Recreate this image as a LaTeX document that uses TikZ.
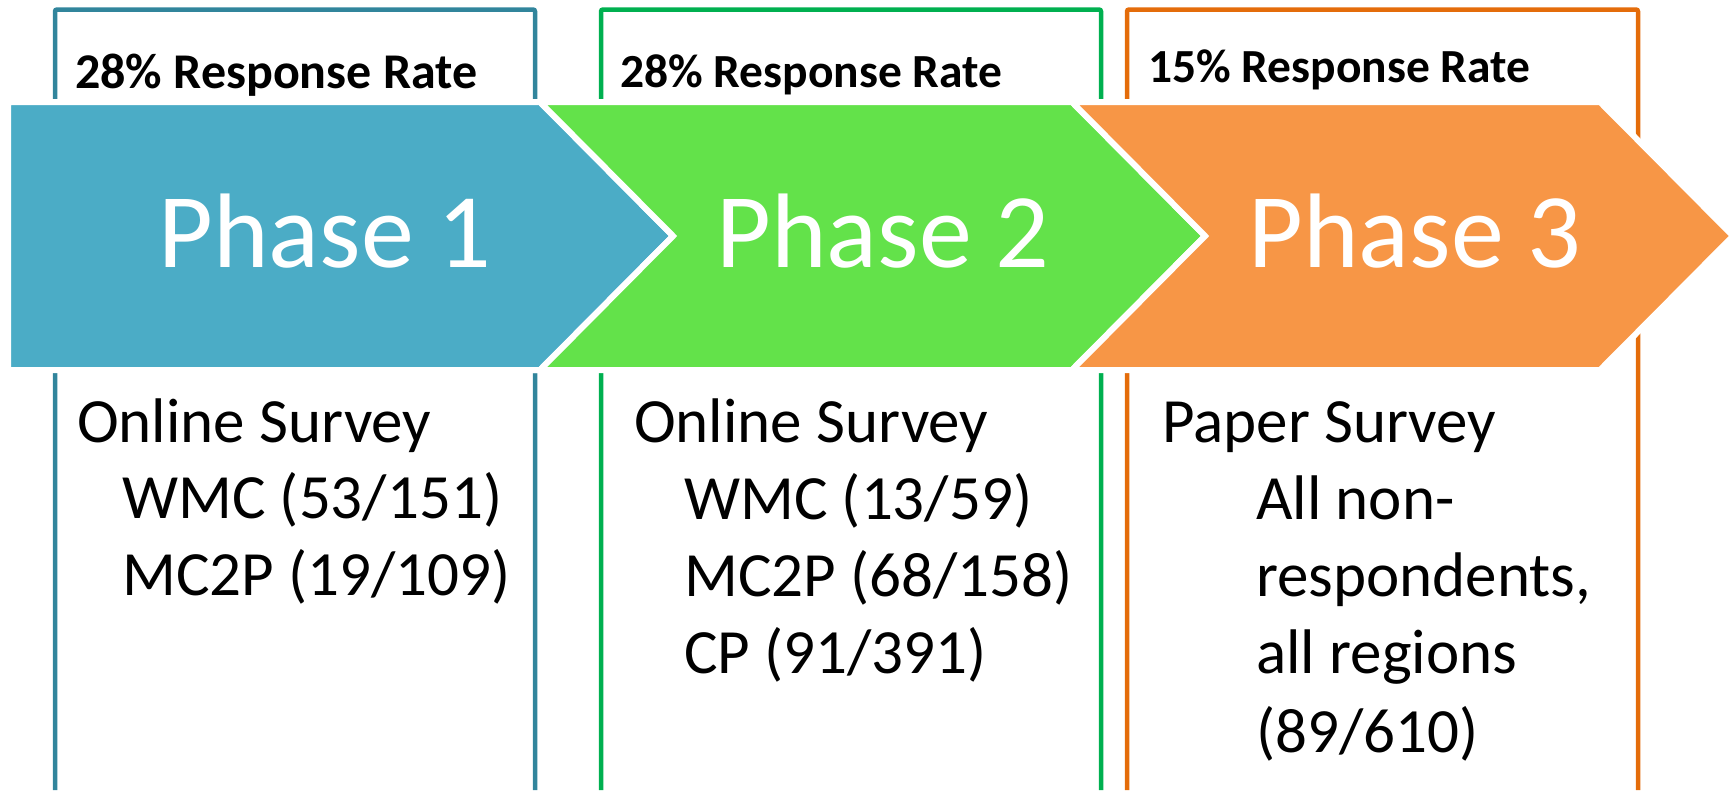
\documentclass[tikz,border=0pt]{standalone}
\usepackage{fontspec}
\setmainfont{Carlito}
\usetikzlibrary{positioning}
\definecolor{chevblue}{RGB}{75,172,198}
\definecolor{chevgreen}{RGB}{99,226,74}
\definecolor{chevorange}{RGB}{247,150,70}
\definecolor{boxblue}{RGB}{49,133,156}
\definecolor{boxgreen}{RGB}{0,176,80}
\definecolor{boxorange}{RGB}{228,108,10}
\newcommand{\rate}[1]{#1\% Response Rate}

\begin{document}
\begin{tikzpicture}[x=1pt, y=-1pt,
  frame/.style={line width=4.5pt, rounded corners=2pt},
  chev/.style={draw=white, line width=6pt, line join=miter},
  phase/.style={anchor=base, inner sep=0pt, text=white, font=\fontsize{106}{106}\selectfont},
  ratelbl/.style={anchor=base west, inner sep=0pt, font=\fontsize{47.5}{48}\selectfont\bfseries},
  item/.style={anchor=base west, inner sep=0pt, font=\fontsize{63}{63}\selectfont}]

  \useasboundingbox (0,0) rectangle (1735,790);

  % open boxes behind the arrows
  \draw[frame, draw=boxblue] (55,790) -- (55,9.5) -- (535,9.5) -- (535,790);
  \draw[frame, draw=boxgreen] (601,790) -- (601,9.5) -- (1101,9.5) -- (1101,790);
  \draw[frame, draw=boxorange] (1127,790) -- (1127,9.5) -- (1638,9.5) -- (1638,790);

  % the three arrows
  \draw[chev, fill=chevblue] (8,102) -- (540,102) -- (673,236) -- (540,370) -- (8,370) -- cycle;
  \draw[chev, fill=chevgreen] (540,102) -- (1072,102) -- (1205,236) -- (1072,370) -- (540,370) -- (673,236) -- cycle;
  \draw[chev, fill=chevorange] (1072,102) -- (1600,102) -- (1733,236) -- (1600,370) -- (1072,370) -- (1205,236) -- cycle;

  \node[phase] (ph1) at (325,267) {Phase 1};
  \node[phase] (ph2) at (883,267) {Phase 2};
  \node[phase] (ph3) at (1415,267) {Phase 3};

  % response rates
  \node[ratelbl, font=\fontsize{50}{50}\selectfont\bfseries] (rate1) at (75,88) {\rate{28}};
  \node[ratelbl] (rate2) at (620,87) {\rate{28}};
  \node[ratelbl] (rate3) at (1148,82) {\rate{15}};

  % phase 1
  \node[item] (on1) at (77,442) {Online Survey};
  \node[item] (wmc1) at (122,518) {WMC (53/151)};
  \node[item] (mcp1) at (122,595) {MC2P (19/109)};

  % phase 2
  \node[item] (on2) at (634,442) {Online Survey};
  \node[item] (wmc2) at (684,519) {WMC (13/59)};
  \node[item] (mcp2) at (684,596) {MC2P (68/158)};
  \node[item] (cp2) at (684,673) {CP (91/391)};

  % phase 3
  \node[item] (pap3) at (1162,442) {Paper Survey};
  \node[item] (all3) at (1256,519) {All non-};
  \node[item] (resp3) at (1256,596) {respondents,};
  \node[item] (reg3) at (1256,673) {all regions};
  \node[item] (num3) at (1256,752) {(89/610)};
\end{tikzpicture}
\end{document}
